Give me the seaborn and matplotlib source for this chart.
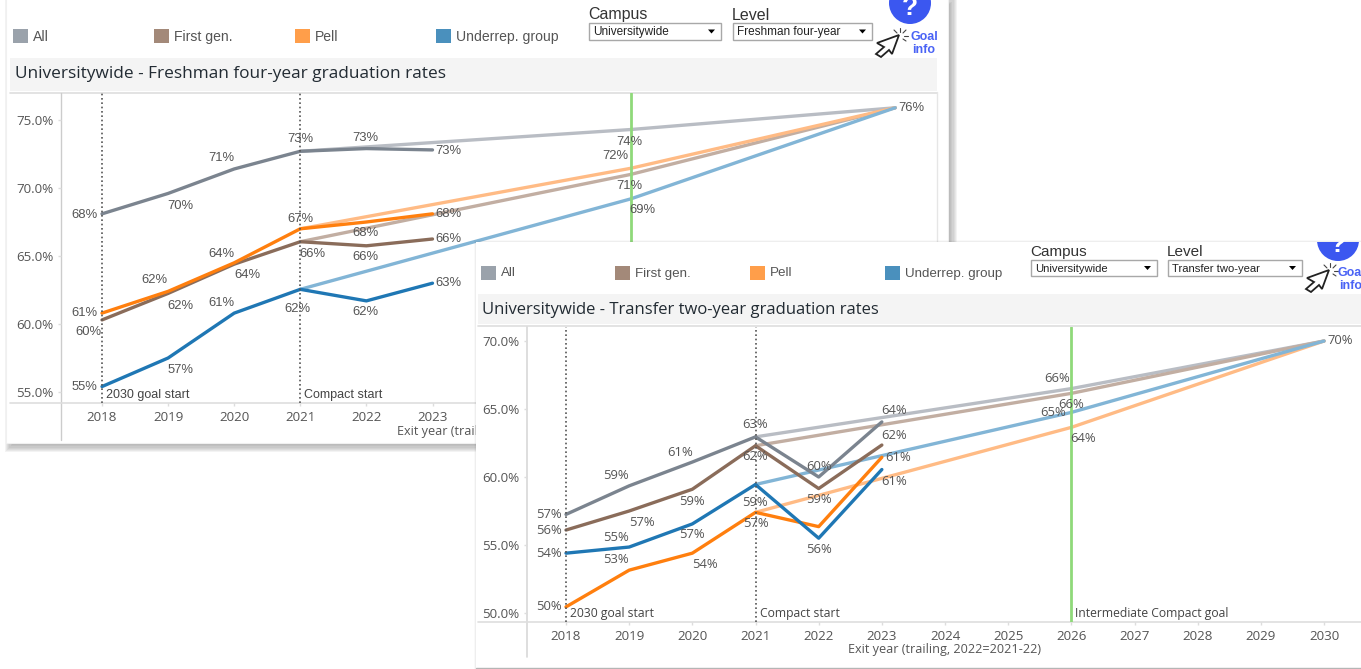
import matplotlib
matplotlib.use('Agg')
import matplotlib.pyplot as plt
from matplotlib.patches import Rectangle, Polygon, Circle
import pandas as pd
import seaborn as sns

# ++++++++++++++++++++ data
years = [2018, 2019, 2020, 2021, 2022, 2023]
goal_years = [2021, 2026, 2030]
groups = ['All', 'First gen.', 'Pell', 'Underrep. group']

# freshman four-year
fr_all = [68.1, 69.6, 71.4, 72.7, 72.9, 72.8]
fr_first = [60.3, 62.25, 64.4, 66.05, 65.75, 66.25]
fr_pell = [60.8, 62.4, 64.5, 67.0, 67.5, 68.1]
fr_under = [55.4, 57.5, 60.8, 62.55, 61.7, 63.0]
fr_goal_all = [72.7, 74.3, 75.9]
fr_goal_first = [66.05, 71.0, 75.9]
fr_goal_pell = [67.0, 71.45, 75.9]
fr_goal_under = [62.55, 69.2, 75.9]

fr_lab_all = ['68%', '70%', '71%', '73%', '73%', '73%']
fr_lab_first = ['60%', '62%', '64%', '66%', '66%', '66%']
fr_lab_pell = ['61%', '62%', '64%', '67%', '68%', '68%']
fr_lab_under = ['55%', '57%', '61%', '62%', '62%', '63%']
fr_goal_lab = ['74%', '71%', '72%', '69%']
fr_end_lab = '76%'

# transfer two-year
tr_all = [57.25, 59.35, 61.1, 62.95, 60.0, 64.05]
tr_first = [56.1, 57.5, 59.1, 62.3, 59.15, 62.35]
tr_pell = [50.45, 53.15, 54.4, 57.4, 56.35, 61.45]
tr_under = [54.4, 54.85, 56.55, 59.45, 55.5, 60.55]
tr_goal_all = [62.95, 66.5, 70.0]
tr_goal_first = [62.3, 66.15, 70.0]
tr_goal_pell = [57.4, 63.65, 70.0]
tr_goal_under = [59.45, 64.75, 70.0]

tr_lab_all = ['57%', '59%', '61%', '63%', '60%', '64%']
tr_lab_first = ['56%', '57%', '59%', '62%', '59%', '62%']
tr_lab_pell = ['50%', '53%', '54%', '57%', '', '61%']
tr_lab_under = ['54%', '55%', '57%', '59%', '56%', '61%']
tr_goal_lab = ['66%', '66%', '64%', '65%']
tr_end_lab = '70%'

# label offsets in pixels, dx and dy (up)
fr_off_all = [(-18, -1), (12, -13), (-13, 11), (0, 12), (-1, 11), (16, -1)]
fr_off_first = [(-14, -12), (12, -13), (13, -11), (12, -12), (-1, -11), (16, 0)]
fr_off_pell = [(-18, 0), (-14, 11), (-13, 9), (0, 10), (-1, -11), (16, 0)]
fr_off_under = [(-18, 0), (12, -12), (-13, 10), (-3, -20), (-1, -11), (16, 0)]
fr_off_goal = [(-1, -12), (-1, -12), (-15, 12), (12, -11)]

tr_off_all = [(-17, 0), (-13, 10), (-12, 10), (0, 12), (0, 11), (12, 11)]
tr_off_first = [(-17, 0), (13, -11), (0, -12), (0, -11), (0, -11), (12, 10)]
tr_off_pell = [(-17, 0), (-13, 11), (13, -11), (0, -11), (0, 0), (16, 0)]
tr_off_under = [(-17, 0), (-13, 10), (0, -11), (-1, -18), (0, -11), (12, -12)]
tr_off_goal = [(-14, 10), (0, -11), (12, -11), (-18, 0)]

line_colors = ['#7b848f', '#8a6c5a', '#ff7f0e', '#1f77b4']
goal_colors = ['#b9bdc4', '#c2aea2', '#ffbb85', '#82b5d6']
swatch_colors = ['#9aa2ab', '#a38979', '#ff9e4a', '#4a90bd']

W, H = 1361, 669
TXT = '#555555'
sns.set_theme(style='white')
plt.rcParams['font.family'] = ['Open Sans', 'DejaVu Sans']
ARIAL = 'Liberation Sans'

fig = plt.figure(figsize=(W / 100, H / 100), dpi=100, facecolor='white')


def layer(z):
    # full figure axes that works in image pixels
    a = fig.add_axes([0, 0, 1, 1], zorder=z)
    a.set_xlim(0, W)
    a.set_ylim(H, 0)
    a.axis('off')
    a.patch.set_alpha(0)
    return a


def panel(l, t, r, b, z):
    a = fig.add_axes([l / W, 1 - b / H, (r - l) / W, (b - t) / H], zorder=z)
    a.patch.set_alpha(0)
    return a


def shadow(a, l, t, r, b, steps, grow, alpha):
    for i in range(steps, 0, -1):
        d = grow * i / steps
        a.add_patch(Rectangle((l - d, t - d), r - l + 2 * d, b - t + 2 * d, fc='#555555', ec='none', alpha=alpha))


def cursor(a, dx, dy):
    pts = [(899, 35), (877, 43), (884, 47), (876, 54), (881, 57), (889, 50), (892, 54)]
    a.add_patch(Polygon([(x + dx, y + dy) for x, y in pts], closed=True, fc='white', ec='#222222', lw=1.3))
    for x0, y0, x1, y1 in [(897, 33, 894, 30), (900, 32, 900, 28), (903, 33, 906, 30), (904, 36, 908, 36), (903, 39, 906, 41)]:
        a.plot([x0 + dx, x1 + dx], [y0 + dy, y1 + dy], color='#444444', lw=0.8)


def widgets(a, sw_x, sw_y, txt_y, boxes, level_text, help_c, goal_x, goal_y, clip, leg_size, head_size, box_size):
    for x, g, c in zip(sw_x, groups, swatch_colors):
        a.add_patch(Rectangle((x, sw_y), 15, 14, fc=c, ec='none'))
        a.text(x + 20, txt_y, g, family=ARIAL, fontsize=leg_size, color=TXT, va='center')
    for (l, r, t, b), name, val in zip(boxes, ['Campus', 'Level'], ['Universitywide', level_text]):
        a.text(l - 1, t - 8, name, family=ARIAL, fontsize=head_size, color='#333333', va='center')
        a.add_patch(Rectangle((l, t), r - l, b - t, fc='white', ec='#a8a8a8', lw=1))
        a.text(l + 4, (t + b) / 2 + 0.5, val, family=ARIAL, fontsize=box_size, color='#222222', va='center')
        a.add_patch(Polygon([(r - 13, (t + b) / 2 - 2), (r - 6, (t + b) / 2 - 2), (r - 9.5, (t + b) / 2 + 2)], fc='black', ec='none'))
    circ = Circle(help_c, 21, fc='#3b57f0', ec='none')
    a.add_patch(circ)
    q = a.text(help_c[0], help_c[1] + 5, '?', family=ARIAL, fontsize=19, weight='bold', color='white', ha='center', va='center')
    rect = Rectangle((0, clip), W, H, transform=a.transData)
    circ.set_clip_path(rect)
    q.set_clip_path(rect)
    a.text(goal_x, goal_y, 'Goal', family=ARIAL, fontsize=9, weight='bold', color='#4a63f5', ha='center', va='center', clip_on=True)
    a.text(goal_x, goal_y + 13, 'info', family=ARIAL, fontsize=9, weight='bold', color='#4a63f5', ha='center', va='center', clip_on=True)


def chart(ax, series, goals, labels, offs, goal_lab, goal_off, end_lab, x0, xstep, y_ref, v_ref, ystep, lab_font, note_size, ticks_y, ticks_x, notes):
    # pixel scale -> data limits
    l, r = ax.get_position().x0 * W, ax.get_position().x1 * W
    t, b = (1 - ax.get_position().y1) * H, (1 - ax.get_position().y0) * H
    ax.set_xlim(2018 + (l - x0) / xstep, 2018 + (r - x0) / xstep)
    ax.set_ylim(v_ref - (b - y_ref) / ystep, v_ref + (y_ref - t) / ystep)

    long_goal = pd.DataFrame([(y, g, v) for g, vals in zip(groups, goals) for y, v in zip(goal_years, vals)], columns=['year', 'group', 'rate'])
    long_act = pd.DataFrame([(y, g, v) for g, vals in zip(groups, series) for y, v in zip(years, vals)], columns=['year', 'group', 'rate'])
    sns.lineplot(data=long_goal, x='year', y='rate', hue='group', hue_order=groups, palette=goal_colors, lw=2.4, legend=False, ax=ax, zorder=2, errorbar=None)
    sns.lineplot(data=long_act, x='year', y='rate', hue='group', hue_order=groups, palette=line_colors, lw=2.4, legend=False, ax=ax, zorder=3, errorbar=None)

    for yr in [2018, 2021]:
        ax.axvline(yr, color='#555555', lw=1.2, ls=(0, (1, 1.6)), zorder=4)
    ax.axvline(2026, color='#8fd97a', lw=2, zorder=4)

    for vals, labs, oo in zip(series, labels, offs):
        for x, v, s, o in zip(years, vals, labs, oo):
            if s:
                ax.annotate(s, (x, v), xytext=o, textcoords='offset pixels', ha='center', va='center', fontsize=9.4, color=TXT, family=lab_font, zorder=5)
    for vals, s, o in zip(goals, goal_lab, goal_off):
        ax.annotate(s, (2026, vals[1]), xytext=o, textcoords='offset pixels', ha='center', va='center', fontsize=9.4, color=TXT, family=lab_font, zorder=5)
    ax.annotate(end_lab, (2030, goals[0][2]), xytext=(16, 0), textcoords='offset pixels', ha='center', va='center', fontsize=9.4, color=TXT, family=lab_font, zorder=5)

    for xx, s in notes:
        ax.annotate(s, (xx, 0), xycoords=('data', 'axes fraction'), xytext=(4, 8), textcoords='offset pixels', ha='left', va='center', fontsize=note_size, color='#444444', family=lab_font, zorder=5)

    ax.set_xticks(ticks_x)
    ax.set_xticklabels([str(v) for v in ticks_x])
    ax.set_yticks(ticks_y)
    ax.set_yticklabels(['%.1f%%' % v for v in ticks_y])
    ax.tick_params(axis='both', labelsize=9.6, colors='#dddddd', labelcolor=TXT, length=2, width=1, bottom=True, left=True, pad=3.5)
    ax.set_xlabel('')
    ax.set_ylabel('')
    for side in ['top', 'right', 'left', 'bottom']:
        ax.spines[side].set_visible(False)
    ax.grid(False)


# ++++++++++++++++++++ back card
bg1 = layer(0)
shadow(bg1, 14, 6, 948, 443, 8, 9, 0.07)
bg1.add_patch(Rectangle((6, -5), 942, 448, fc='white', ec='#f0f0f0', lw=0.8))
bg1.add_patch(Rectangle((10, 58), 927, 33, fc='#f4f4f4', ec='none'))
bg1.plot([10, 937], [92.5, 92.5], color='#dedede', lw=1.2)
bg1.plot([937, 937], [92, 245], color='#e6e6e6', lw=1)
bg1.plot([61, 61], [93, 440], color='#cccccc', lw=1)
bg1.plot([10, 500], [403, 403], color='#dedede', lw=1.2)
bg1.text(15, 74.5, 'Universitywide - Freshman four-year graduation rates', fontsize=12.4, color='#222b33', va='center')
bg1.text(397, 432, 'Exit year (trailing, 2022=2021-22)', fontsize=9.1, color=TXT, va='center')
widgets(bg1, [13, 154, 295, 436], 29, 37, [(589, 721, 23, 40), (733, 872, 23, 40)], 'Freshman four-year', (910, 3), 924, 37, 0, 10.1, 11.5, 8.5)
cursor(bg1, 0, 0)

ax1 = panel(61, 93, 937, 403, 1)
chart(ax1, [fr_all, fr_first, fr_pell, fr_under],
      [fr_goal_all, fr_goal_first, fr_goal_pell, fr_goal_under],
      [fr_lab_all, fr_lab_first, fr_lab_pell, fr_lab_under],
      [fr_off_all, fr_off_first, fr_off_pell, fr_off_under],
      fr_goal_lab, fr_off_goal, fr_end_lab,
      102, 66.1, 392, 55, 13.6, ARIAL, 9,
      [55, 60, 65, 70, 75], list(range(2018, 2031)),
      [(2018, '2030 goal start'), (2021, 'Compact start'), (2026, 'Intermediate Compact goal')])

# ++++++++++++++++++++ front card
bg2 = layer(2)
shadow(bg2, 476, 242, W + 20, 668, 3, 2, 0.03)
bg2.add_patch(Rectangle((476, 242), W - 476 + 5, 426, fc='white', ec='none'))
bg2.plot([476, W], [668, 668], color='#b5b5b5', lw=1)
bg2.add_patch(Rectangle((478, 294), W - 478, 30, fc='#f4f4f4', ec='none'))
bg2.plot([478, W], [326, 326], color='#dedede', lw=1.2)
bg2.plot([527, 527], [327, 657], color='#d8d8d8', lw=1.2)
bg2.plot([478, W], [622, 622], color='#dedede', lw=1.2)
bg2.text(482, 309.5, 'Universitywide - Transfer two-year graduation rates', fontsize=11.95, color='#222b33', va='center')
bg2.text(945, 649, 'Exit year (trailing, 2022=2021-22)', fontsize=9.1, color=TXT, va='center', ha='center')
widgets(bg2, [481, 615, 750, 885], 266, 273.5, [(1031, 1157, 260, 276), (1168, 1302, 260, 276)], 'Transfer two-year', (1338, 240), 1351, 273, 242, 9.6, 11, 8.1)
cursor(bg2, 430, 235)

ax2 = panel(527, 327, W, 622, 3)
chart(ax2, [tr_all, tr_first, tr_pell, tr_under],
      [tr_goal_all, tr_goal_first, tr_goal_pell, tr_goal_under],
      [tr_lab_all, tr_lab_first, tr_lab_pell, tr_lab_under],
      [tr_off_all, tr_off_first, tr_off_pell, tr_off_under],
      tr_goal_lab, tr_off_goal, tr_end_lab,
      566, 63.17, 613, 50, 13.6, 'Open Sans', 8.7,
      [50, 55, 60, 65, 70], list(range(2018, 2031)),
      [(2018, '2030 goal start'), (2021, 'Compact start'), (2026, 'Intermediate Compact goal')])

fig.savefig('out.png', dpi=100)
